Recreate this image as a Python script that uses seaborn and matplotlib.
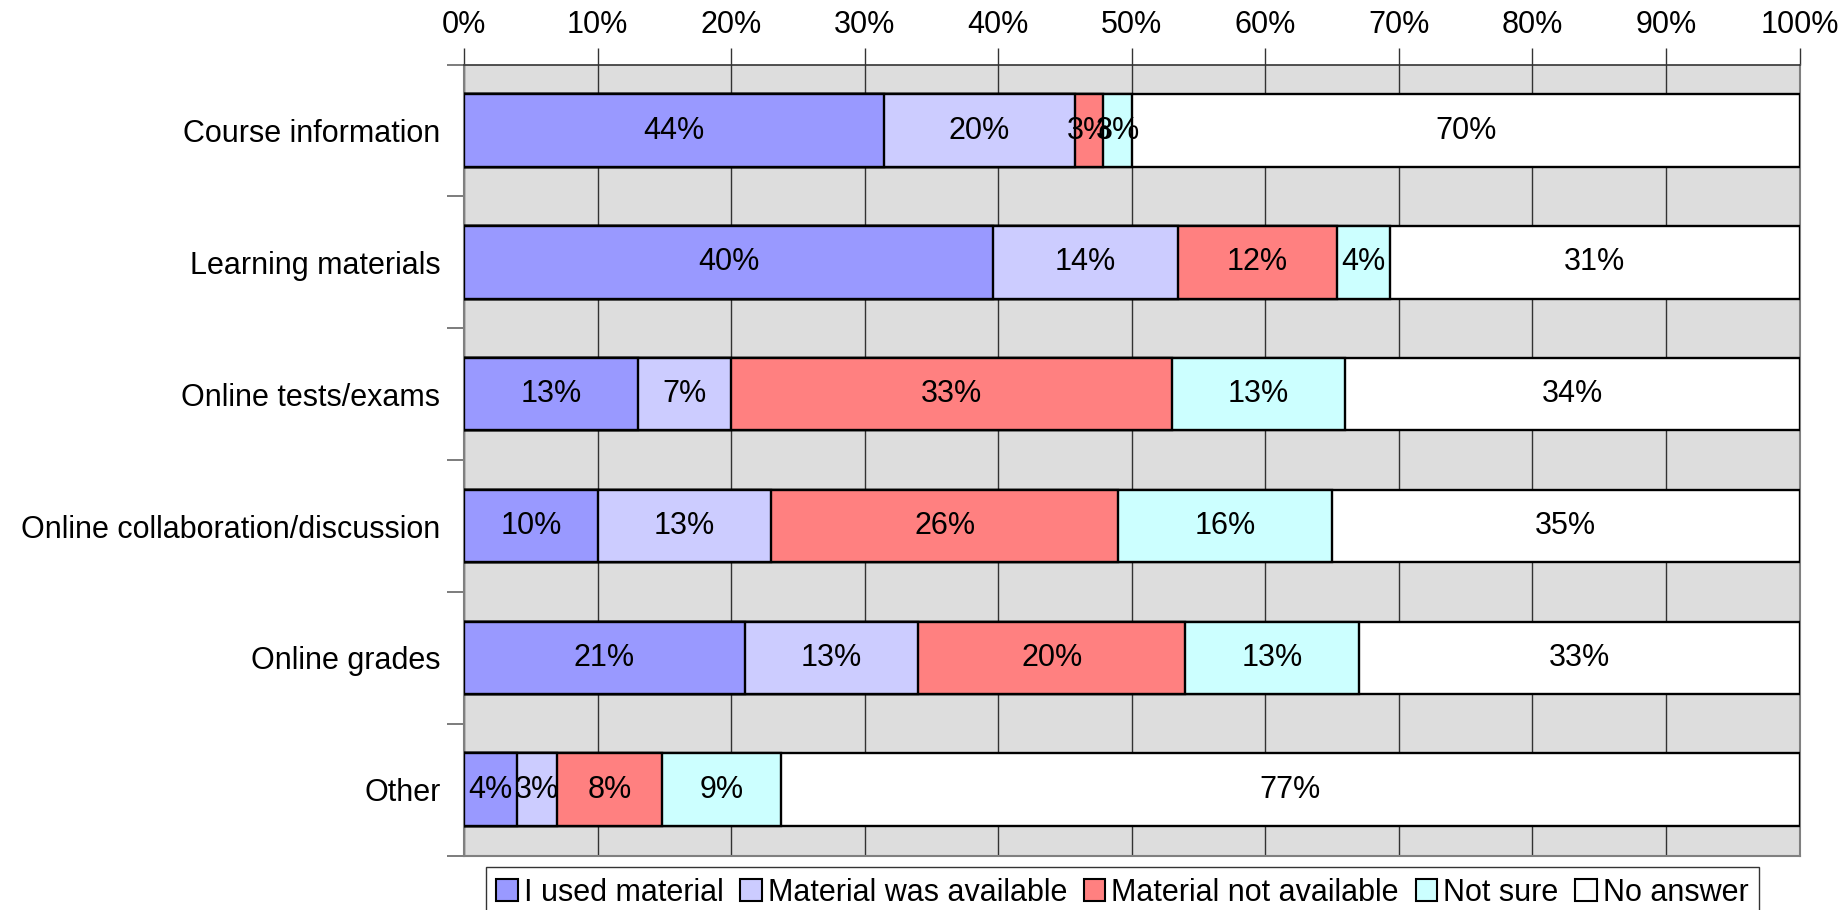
import numpy as np
import pandas as pd
import matplotlib
matplotlib.use("Agg")
import matplotlib.pyplot as plt
from matplotlib.patches import Patch
import seaborn as sns

categories = [
    "Course information",
    "Learning materials",
    "Online tests/exams",
    "Online collaboration/discussion",
    "Online grades",
    "Other",
]
series_names = [
    "I used material",
    "Material was available",
    "Material not available",
    "Not sure",
    "No answer",
]
used = [44, 40, 13, 10, 21, 4]
available = [20, 14, 7, 13, 13, 3]
not_available = [3, 12, 33, 26, 20, 8]
not_sure = [3, 4, 13, 16, 13, 9]
no_answer = [70, 31, 34, 35, 33, 77]
x_ticks = [0, 10, 20, 30, 40, 50, 60, 70, 80, 90, 100]

colors = ["#9999FF", "#CCCCFF", "#FF8080", "#CCFFFF", "#FFFFFF"]

sns.set_style("white")
plt.rcParams["font.family"] = ["Liberation Sans", "DejaVu Sans"]
plt.rcParams["text.color"] = "black"
plt.rcParams["xtick.labelcolor"] = "black"
plt.rcParams["ytick.labelcolor"] = "black"

FS = 22

values = np.array([used, available, not_available, not_sure, no_answer], dtype=float).T
totals = values.sum(axis=1, keepdims=True)
shares = values / totals * 100.0
cum = np.cumsum(shares, axis=1)

fig = plt.figure(figsize=(18.43, 9.10), dpi=100)
ax = fig.add_axes([0.2518, 0.0597, 0.7246, 0.8693])
ax.set_facecolor("#DDDDDD")

# stacked bars: draw cumulative totals from the outermost layer inwards
for j in range(len(series_names) - 1, -1, -1):
    df = pd.DataFrame({"category": categories, "value": cum[:, j]})
    sns.barplot(data=df, x="value", y="category", orient="h", color=colors[j],
                width=0.55, edgecolor="black", linewidth=1.7, saturation=1,
                ax=ax, zorder=3)

# value labels centred on each segment
starts = cum - shares
for i in range(len(categories)):
    for j in range(len(series_names)):
        ax.text(starts[i, j] + shares[i, j] / 2, i, f"{int(values[i, j])}%",
                ha="center", va="center", fontsize=FS, color="black", zorder=5)

ax.set_xlim(0, 100)
ax.set_ylim(len(categories) - 0.5, -0.5)
ax.set_xlabel("")
ax.set_ylabel("")

ax.xaxis.tick_top()
ax.set_xticks(x_ticks)
ax.set_xticklabels([f"{t}%" for t in x_ticks])
ax.tick_params(axis="x", which="major", top=True, bottom=False, length=12,
               width=1, color="#333333", labelsize=FS, pad=6)
ax.xaxis.grid(True, color="#333333", linewidth=1)
ax.set_axisbelow(True)

ax.set_yticks(range(len(categories)))
ax.set_yticklabels(categories)
ax.tick_params(axis="y", which="major", left=True, length=0, labelsize=FS, pad=17)
ax.set_yticks(np.arange(-0.5, len(categories), 1.0), minor=True)
ax.tick_params(axis="y", which="minor", left=True, length=12, width=1.2, color="#666666")

for side in ["left", "bottom", "right", "top"]:
    ax.spines[side].set_visible(True)
    ax.spines[side].set_color("#808080")
    ax.spines[side].set_linewidth(1.5)
ax.spines["top"].set_color("#333333")
ax.spines["top"].set_linewidth(1.2)

handles = [Patch(facecolor=c, edgecolor="black", linewidth=1.5, label=n)
           for c, n in zip(colors, series_names)]
leg = fig.legend(handles=handles, loc="upper center", bbox_to_anchor=(0.609, 1 - 867 / 910),
                 ncol=5, frameon=True, fancybox=False, fontsize=FS,
                 handlelength=0.7, handleheight=0.7, handletextpad=0.2,
                 columnspacing=0.55, borderpad=0.35, borderaxespad=0)
leg.get_frame().set_edgecolor("black")
leg.get_frame().set_linewidth(1)

fig.savefig("out.png", dpi=100)
